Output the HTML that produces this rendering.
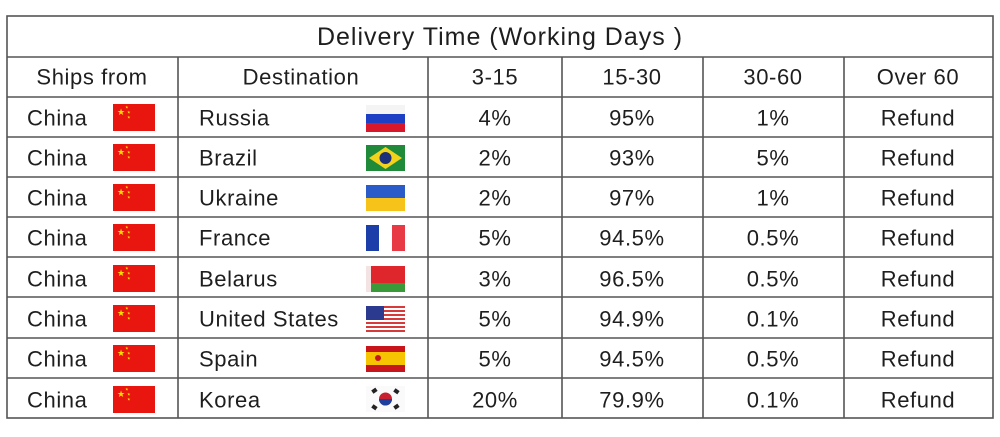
<!DOCTYPE html>
<html><head><meta charset="utf-8"><style>
html,body{margin:0;padding:0;background:#fff;}
svg{display:block}
text{font-family:"Liberation Sans",sans-serif;font-size:22px;letter-spacing:0.6px;fill:#1e1e1e;dominant-baseline:central}
</style></head><body>
<svg width="1000" height="437" viewBox="0 0 1000 437" xmlns="http://www.w3.org/2000/svg">
<defs>
<g id="cn"><rect width="42" height="27" fill="#e8160f"/><text x="4" y="8" style="font-size:9px;fill:#ffde00;letter-spacing:0">★</text><text x="12" y="3" style="font-size:4px;fill:#ffde00;letter-spacing:0">★</text><text x="14" y="8" style="font-size:4px;fill:#ffde00;letter-spacing:0">★</text><text x="14" y="13" style="font-size:4px;fill:#ffde00;letter-spacing:0">★</text></g>
</defs>
<g stroke="#555" stroke-width="1.6" fill="none">
<rect x="7" y="16" width="986" height="402"/>
<line x1="7" y1="57" x2="993" y2="57"/>
<line x1="7" y1="97" x2="993" y2="97"/>
<line x1="7" y1="137" x2="993" y2="137"/>
<line x1="7" y1="177" x2="993" y2="177"/>
<line x1="7" y1="217" x2="993" y2="217"/>
<line x1="7" y1="257" x2="993" y2="257"/>
<line x1="7" y1="297" x2="993" y2="297"/>
<line x1="7" y1="338" x2="993" y2="338"/>
<line x1="7" y1="378" x2="993" y2="378"/>
<line x1="178" y1="57" x2="178" y2="418"/>
<line x1="428" y1="57" x2="428" y2="418"/>
<line x1="562" y1="57" x2="562" y2="418"/>
<line x1="703" y1="57" x2="703" y2="418"/>
<line x1="844" y1="57" x2="844" y2="418"/>
</g>
<text x="500" y="37" text-anchor="middle" style="font-size:25px;letter-spacing:1px">Delivery Time (Working Days )</text>
<g text-anchor="middle">
<text x="92" y="77">Ships from</text>
<text x="301" y="77">Destination</text>
<text x="495" y="77">3-15</text>
<text x="632" y="77">15-30</text>
<text x="773" y="77">30-60</text>
<text x="918" y="77">Over 60</text>
</g>
<g>
<text x="27" y="118">China</text><text x="27" y="158">China</text><text x="27" y="198">China</text><text x="27" y="238">China</text>
<text x="27" y="279">China</text><text x="27" y="319">China</text><text x="27" y="359">China</text><text x="27" y="400">China</text>
<use href="#cn" x="113" y="104"/><use href="#cn" x="113" y="144"/><use href="#cn" x="113" y="184"/><use href="#cn" x="113" y="224"/>
<use href="#cn" x="113" y="265"/><use href="#cn" x="113" y="305"/><use href="#cn" x="113" y="345"/><use href="#cn" x="113" y="386"/>
<text x="199" y="118">Russia</text><text x="199" y="158">Brazil</text><text x="199" y="198">Ukraine</text><text x="199" y="238">France</text>
<text x="199" y="279">Belarus</text><text x="199" y="319">United States</text><text x="199" y="359">Spain</text><text x="199" y="400">Korea</text>
</g>
<g>
<rect x="366" y="105" width="39" height="9" fill="#f4f4f4"/><rect x="366" y="114" width="39" height="9" fill="#1d3fc4"/><rect x="366" y="123" width="39" height="9" fill="#d8182a"/>
<rect x="366" y="145" width="39" height="26" fill="#1f8a3a"/><polygon points="369,158 385.5,147 402,158 385.5,169" fill="#f2d21b"/><circle cx="385.5" cy="158" r="6" fill="#1b2f7a"/>
<rect x="366" y="185" width="39" height="13" fill="#2a5bc8"/><rect x="366" y="198" width="39" height="13" fill="#f6c31a"/>
<rect x="366" y="225" width="13" height="26" fill="#1c3ea8"/><rect x="379" y="225" width="13" height="26" fill="#fff"/><rect x="392" y="225" width="13" height="26" fill="#e83a44"/>
<rect x="366" y="266" width="39" height="17" fill="#e0262d"/><rect x="366" y="283" width="39" height="9" fill="#3a9a3a"/><rect x="366" y="266" width="5" height="26" fill="#f3e3e3"/>
<rect x="366" y="306" width="39" height="26" fill="#fff"/>
<g fill="#d73a3a"><rect x="366" y="306" width="39" height="2"/><rect x="366" y="310" width="39" height="2"/><rect x="366" y="314" width="39" height="2"/><rect x="366" y="318" width="39" height="2"/><rect x="366" y="322" width="39" height="2"/><rect x="366" y="326" width="39" height="2"/><rect x="366" y="330" width="39" height="2"/></g>
<rect x="366" y="306" width="18" height="14" fill="#2b3a8f"/>
<rect x="366" y="346" width="39" height="26" fill="#c8151b"/><rect x="366" y="352" width="39" height="13" fill="#f6c400"/><circle cx="378" cy="358" r="3" fill="#c8151b"/>
<rect x="366" y="386" width="39" height="26" fill="#fafafa"/><circle cx="385.5" cy="399" r="6.5" fill="#c8202f"/><path d="M379 399 a6.5 6.5 0 0 0 13 0 z" fill="#1c3e9c"/>
<g fill="#222"><rect x="372" y="389" width="5" height="4" transform="rotate(-35 374 391)"/><rect x="394" y="389" width="5" height="4" transform="rotate(35 396 391)"/><rect x="372" y="405" width="5" height="4" transform="rotate(35 374 407)"/><rect x="394" y="405" width="5" height="4" transform="rotate(-35 396 407)"/></g>
</g>
<g text-anchor="middle">
<text x="495" y="118">4%</text><text x="632" y="118">95%</text><text x="773" y="118">1%</text><text x="918" y="118">Refund</text>
<text x="495" y="158">2%</text><text x="632" y="158">93%</text><text x="773" y="158">5%</text><text x="918" y="158">Refund</text>
<text x="495" y="198">2%</text><text x="632" y="198">97%</text><text x="773" y="198">1%</text><text x="918" y="198">Refund</text>
<text x="495" y="238">5%</text><text x="632" y="238">94.5%</text><text x="773" y="238">0.5%</text><text x="918" y="238">Refund</text>
<text x="495" y="279">3%</text><text x="632" y="279">96.5%</text><text x="773" y="279">0.5%</text><text x="918" y="279">Refund</text>
<text x="495" y="319">5%</text><text x="632" y="319">94.9%</text><text x="773" y="319">0.1%</text><text x="918" y="319">Refund</text>
<text x="495" y="359">5%</text><text x="632" y="359">94.5%</text><text x="773" y="359">0.5%</text><text x="918" y="359">Refund</text>
<text x="495" y="400">20%</text><text x="632" y="400">79.9%</text><text x="773" y="400">0.1%</text><text x="918" y="400">Refund</text>
</g>
</svg>
</body></html>
